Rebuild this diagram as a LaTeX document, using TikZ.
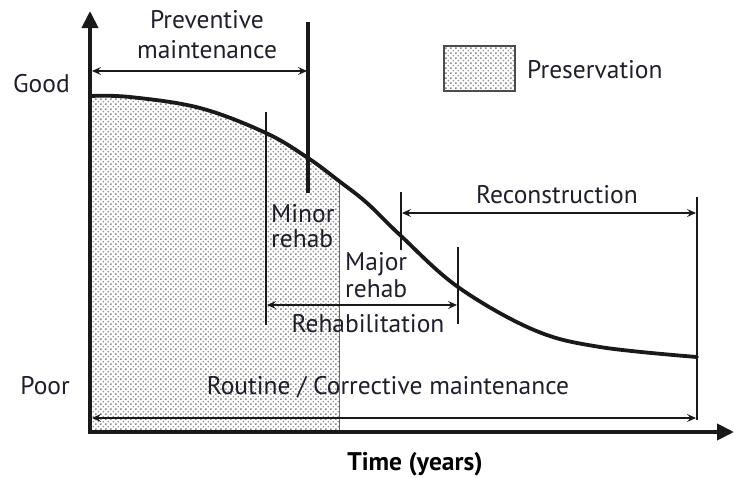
\documentclass[tikz,border=0pt]{standalone}
\usepackage{fontspec}
\setmainfont{PT Sans}
\usetikzlibrary{arrows.meta,patterns}
\pgfdeclarepatternformonly{prsdots}{\pgfpointorigin}{\pgfqpoint{4.8pt}{4.8pt}}{\pgfqpoint{4.8pt}{4.8pt}}{%
  \pgfpathcircle{\pgfqpoint{0pt}{0pt}}{.85pt}%
  \pgfpathcircle{\pgfqpoint{4.8pt}{0pt}}{.85pt}%
  \pgfpathcircle{\pgfqpoint{0pt}{4.8pt}}{.85pt}%
  \pgfpathcircle{\pgfqpoint{4.8pt}{4.8pt}}{.85pt}%
  \pgfpathcircle{\pgfqpoint{2.4pt}{2.4pt}}{.85pt}%
  \pgfusepath{fill}}
\definecolor{txt}{rgb}{0.12,0.12,0.17}
\definecolor{ink}{rgb}{0.1,0.1,0.1}
\begin{document}
\begin{tikzpicture}[x=1pt,y=-1pt,
  lbl/.style={inner sep=0pt,text=txt,font=\fontsize{25.5}{30}\selectfont},
  dbl/.style={{Stealth[length=9pt,width=8pt,inset=3.5pt]}-{Stealth[length=9pt,width=8pt,inset=3.5pt]},line width=1.4pt,draw=ink},
  bar/.style={draw=ink,line width=2.6pt},
  shade/.style={pattern=prsdots,pattern color=black!45}]
\useasboundingbox (0,0) rectangle (734,477);
% shaded preservation area
\begin{scope}
\clip (90,0) rectangle (339,432);
\fill[shade] (90,432) -- plot[smooth,tension=0.6] coordinates {(90,96) (130,97) (200,108) (266,133) (308,158) (339,181) (367,203) (400,235) (458,287) (534,330) (600,347) (697,357)} -- (697,432) -- cycle;
\end{scope}
\coordinate (shT) at (339,181);
\coordinate (shB) at (339,430);
\draw[black!60,line width=0.9pt] (shT) -- (shB);
% curve
\draw[ink,line width=3.8pt,line cap=round] plot[smooth,tension=0.6] coordinates {(90,96) (130,97) (200,108) (266,133) (308,158) (339,181) (367,203) (400,235) (458,287) (534,330) (600,347) (697,357)};
% vertical bars
\coordinate (pvT) at (308,22); \coordinate (pvB) at (308,193);
\coordinate (mnT) at (266,112); \coordinate (mnB) at (266,325);
\coordinate (rcT) at (401,192); \coordinate (rcB) at (401,250);
\coordinate (mjT) at (458,247); \coordinate (mjB) at (458,324);
\coordinate (reT) at (697,197); \coordinate (reB) at (697,420);
\draw[bar,line width=3.8pt] (pvT) -- (pvB);
\draw[bar] (mnT) -- (mnB);
\draw[bar] (rcT) -- (rcB);
\draw[bar] (mjT) -- (mjB);
\draw[bar,line width=2.8pt] (reT) -- (reB);
% axes
\coordinate (org) at (90,432);
\coordinate (ytop) at (90,11);
\coordinate (xend) at (734,432);
\draw[ink,line width=4pt,line join=miter,{Triangle[length=17pt,width=16pt]}-{Triangle[length=17pt,width=16pt]}] (ytop) |- (xend);
% range arrows
\coordinate (pvL) at (92,71); \coordinate (pvR) at (307,71);
\coordinate (rcL) at (402,213); \coordinate (rcR) at (696,213);
\coordinate (rhL) at (267,305); \coordinate (rhR) at (457,305);
\coordinate (rtL) at (92,418); \coordinate (rtR) at (696,418);
\draw[dbl] (pvL) -- (pvR);
\draw[dbl] (rcL) -- (rcR);
\draw[dbl] (rhL) -- (rhR);
\draw[dbl] (rtL) -- (rtR);
% legend
\node[draw=black!70,line width=1.6pt,minimum width=71pt,minimum height=45pt,inner sep=0pt,shade] (leg) at (479.5,68.5) {};
\node[lbl,anchor=base west] (legt) at (527,78) {Preservation};
% labels
\node[lbl,anchor=base] (prev1) at (207,28.5) {Preventive};
\node[lbl,anchor=base] (prev2) at (207,58) {maintenance};
\node[lbl,anchor=base east] (good) at (70,92) {Good};
\node[lbl,anchor=base east] (poor) at (70,394) {Poor};
\node[lbl,anchor=base] (recon) at (557,203) {Reconstruction};
\node[lbl,anchor=base west] (minor1) at (271,222) {Minor};
\node[lbl,anchor=base west] (minor2) at (271,247) {rehab};
\node[lbl,anchor=base west] (major1) at (345,270) {Major};
\node[lbl,anchor=base west] (major2) at (345,297) {rehab};
\node[lbl,anchor=base] (rehab) at (368,332) {Rehabilitation};
\node[lbl,anchor=base] (routine) at (388,394) {Routine / Corrective maintenance};
\node[lbl,anchor=base,font=\fontsize{25.5}{30}\selectfont\bfseries,text=black] (time) at (415,470) {Time (years)};
\end{tikzpicture}
\end{document}
